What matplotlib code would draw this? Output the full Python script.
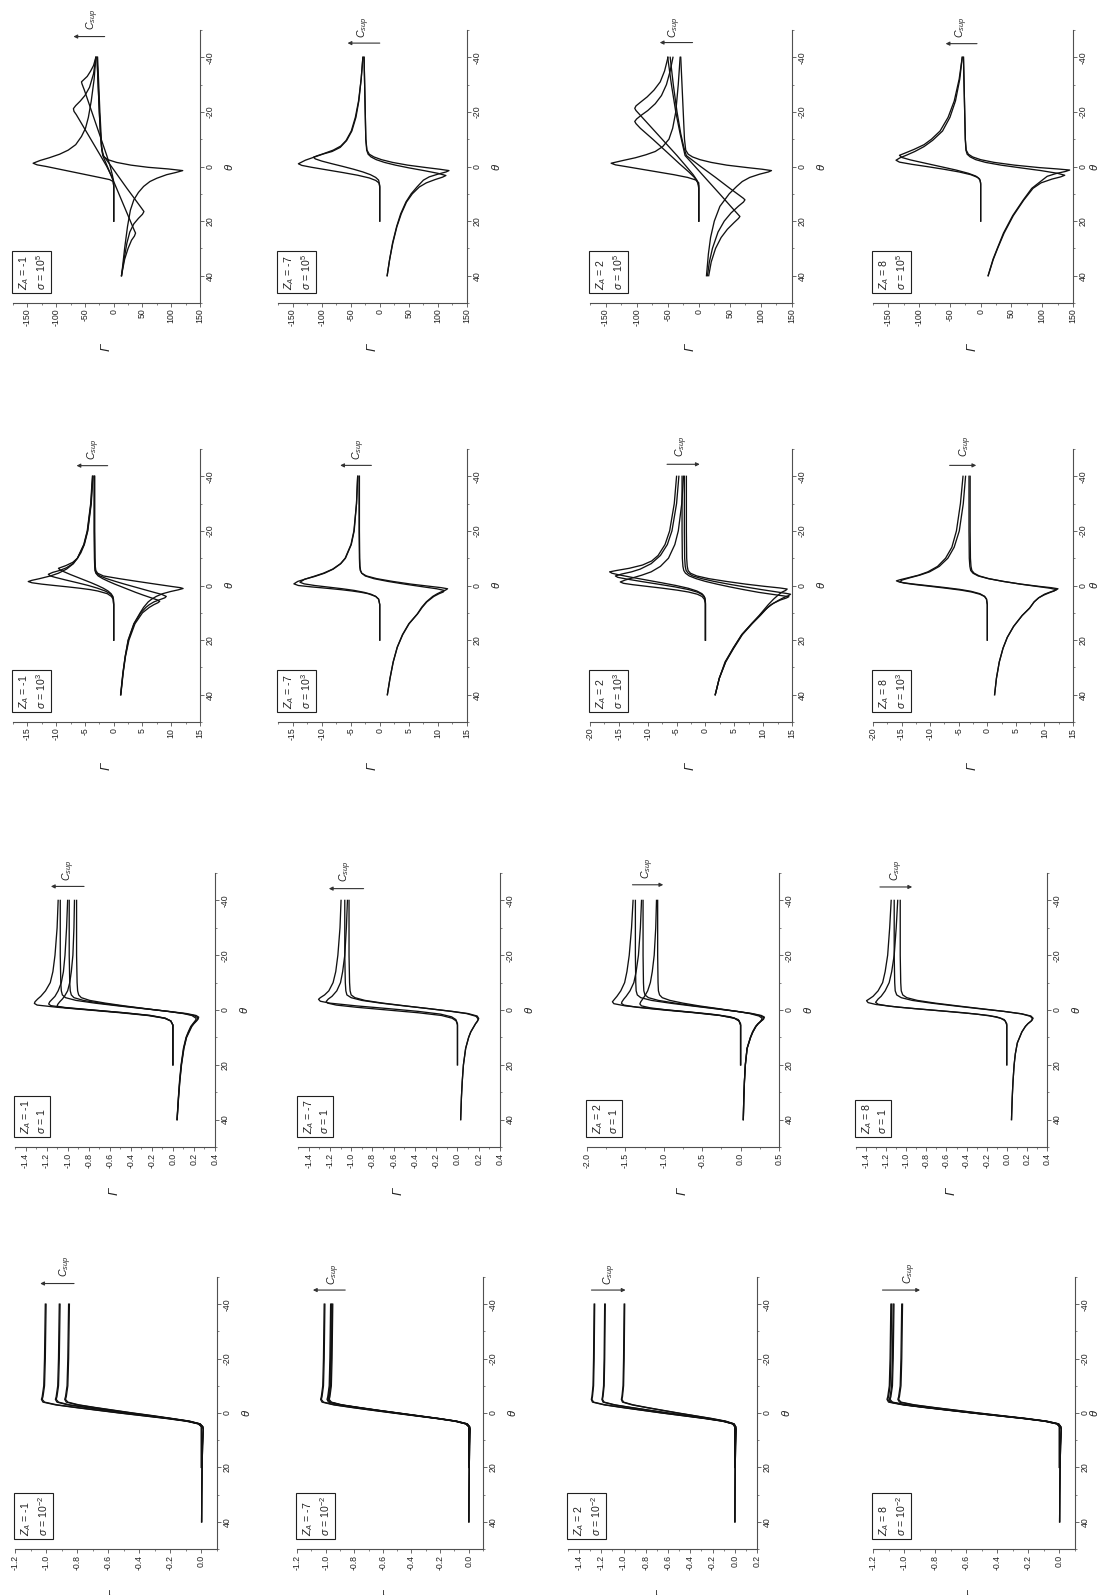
import matplotlib
matplotlib.use("Agg")
import matplotlib.pyplot as plt
from matplotlib.ticker import MultipleLocator, FuncFormatter
from matplotlib.transforms import offset_copy

plt.rcParams['font.family'] = ['Liberation Sans', 'DejaVu Sans']
plt.rcParams['mathtext.fontset'] = 'custom'
plt.rcParams['mathtext.rm'] = 'Liberation Sans'
plt.rcParams['mathtext.it'] = 'Liberation Sans:italic'
plt.rcParams['mathtext.bf'] = 'Liberation Sans:bold'
plt.rcParams['axes.unicode_minus'] = False

# ------------------------------------------------------------------ data
Z_A_VALUES = [-1, -7, 2, 8]                       # columns
SIGMA_TEXT = ['10$^{5}$', '10$^{3}$', '1', '10$^{-2}$']   # rows, top to bottom

# sigma = 1e-2 : shared theta grids
TH_EM2_L = [-40, -20, -10, -6, -5, -4, -3, -2, -1, 0, 1, 2, 3, 4, 5, 8, 20]
TH_EM2_R = [-40, -20, -10, -6, -5, -4, -3, -2, -1, 0, 1, 2, 3, 4, 5, 6, 8, 12, 20, 30, 40]

EM2_M1_L1 = [-1.005, -1.01, -1.015, -1.025, -1.03, -1.02, -0.94, -0.81, -0.67, -0.53, -0.38, -0.23, -0.10, -0.02, 0.0, 0.0, 0.0]
EM2_M1_L2 = [-0.915, -0.92, -0.925, -0.935, -0.94, -0.93, -0.86, -0.74, -0.61, -0.48, -0.35, -0.21, -0.09, -0.02, 0.0, 0.0, 0.0]
EM2_M1_L3 = [-0.855, -0.86, -0.865, -0.875, -0.88, -0.87, -0.80, -0.69, -0.57, -0.45, -0.32, -0.20, -0.085, -0.015, 0.0, 0.0, 0.0]
EM2_M1_R1 = [-1.0, -1.005, -1.01, -1.02, -1.025, -1.01, -0.93, -0.80, -0.66, -0.52, -0.37, -0.22, -0.09, -0.01, 0.008, 0.012, 0.01, 0.007, 0.004, 0.002, 0.001]
EM2_M1_R2 = [-0.91, -0.915, -0.92, -0.93, -0.935, -0.92, -0.85, -0.73, -0.60, -0.47, -0.34, -0.20, -0.08, -0.01, 0.008, 0.012, 0.01, 0.007, 0.004, 0.002, 0.001]
EM2_M1_R3 = [-0.85, -0.855, -0.86, -0.87, -0.875, -0.86, -0.79, -0.68, -0.56, -0.44, -0.31, -0.19, -0.075, -0.008, 0.008, 0.012, 0.01, 0.007, 0.004, 0.002, 0.001]

EM2_M7_L1 = [-1.01, -1.015, -1.02, -1.03, -1.035, -1.025, -0.945, -0.815, -0.675, -0.53, -0.38, -0.23, -0.10, -0.02, 0.0, 0.0, 0.0]
EM2_M7_L2 = [-0.965, -0.97, -0.975, -0.985, -0.99, -0.98, -0.905, -0.78, -0.645, -0.505, -0.365, -0.22, -0.095, -0.02, 0.0, 0.0, 0.0]
EM2_M7_L3 = [-0.955, -0.96, -0.965, -0.975, -0.98, -0.97, -0.895, -0.77, -0.64, -0.50, -0.36, -0.22, -0.09, -0.02, 0.0, 0.0, 0.0]
EM2_M7_R1 = [-1.005, -1.01, -1.015, -1.025, -1.03, -1.015, -0.935, -0.805, -0.665, -0.52, -0.37, -0.22, -0.09, -0.01, 0.006, 0.01, 0.008, 0.006, 0.004, 0.002, 0.001]
EM2_M7_R2 = [-0.96, -0.965, -0.97, -0.98, -0.985, -0.97, -0.895, -0.77, -0.635, -0.495, -0.355, -0.21, -0.085, -0.01, 0.006, 0.01, 0.008, 0.006, 0.004, 0.002, 0.001]
EM2_M7_R3 = [-0.95, -0.955, -0.96, -0.97, -0.975, -0.96, -0.885, -0.76, -0.63, -0.49, -0.35, -0.21, -0.085, -0.01, 0.006, 0.01, 0.008, 0.006, 0.004, 0.002, 0.001]

EM2_P2_L1 = [-1.265, -1.27, -1.275, -1.285, -1.29, -1.28, -1.176, -1.012, -0.835, -0.658, -0.468, -0.278, -0.114, -0.019, 0.0, 0.0, 0.0]
EM2_P2_L2 = [-1.17, -1.175, -1.18, -1.19, -1.195, -1.185, -1.088, -0.936, -0.772, -0.608, -0.433, -0.257, -0.105, -0.018, 0.0, 0.0, 0.0]
EM2_P2_L3 = [-0.995, -1.0, -1.005, -1.015, -1.02, -1.01, -0.925, -0.796, -0.657, -0.517, -0.368, -0.219, -0.09, -0.015, 0.0, 0.0, 0.0]
EM2_P2_R1 = [-1.26, -1.265, -1.27, -1.28, -1.285, -1.27, -1.166, -1.0, -0.825, -0.648, -0.458, -0.268, -0.104, -0.009, 0.008, 0.012, 0.01, 0.007, 0.004, 0.002, 0.001]
EM2_P2_R2 = [-1.165, -1.17, -1.175, -1.185, -1.19, -1.175, -1.078, -0.926, -0.762, -0.598, -0.423, -0.247, -0.095, -0.008, 0.008, 0.012, 0.01, 0.007, 0.004, 0.002, 0.001]
EM2_P2_R3 = [-0.99, -0.995, -1.0, -1.01, -1.015, -1.0, -0.915, -0.786, -0.647, -0.507, -0.358, -0.209, -0.08, -0.005, 0.008, 0.012, 0.01, 0.007, 0.004, 0.002, 0.001]

EM2_P8_L1 = [-1.085, -1.09, -1.095, -1.105, -1.11, -1.10, -1.009, -0.868, -0.716, -0.564, -0.401, -0.239, -0.098, -0.016, 0.0, 0.0, 0.0]
EM2_P8_L2 = [-1.07, -1.075, -1.08, -1.09, -1.095, -1.085, -0.995, -0.856, -0.706, -0.556, -0.396, -0.235, -0.096, -0.016, 0.0, 0.0, 0.0]
EM2_P8_L3 = [-1.015, -1.02, -1.025, -1.035, -1.04, -1.03, -0.944, -0.812, -0.67, -0.528, -0.376, -0.223, -0.091, -0.015, 0.0, 0.0, 0.0]
EM2_P8_R1 = [-1.08, -1.085, -1.09, -1.10, -1.105, -1.09, -0.999, -0.858, -0.706, -0.554, -0.391, -0.229, -0.088, -0.006, 0.008, 0.012, 0.01, 0.007, 0.004, 0.002, 0.001]
EM2_P8_R2 = [-1.065, -1.07, -1.075, -1.085, -1.09, -1.075, -0.985, -0.846, -0.696, -0.546, -0.386, -0.225, -0.086, -0.006, 0.008, 0.012, 0.01, 0.007, 0.004, 0.002, 0.001]
EM2_P8_R3 = [-1.01, -1.015, -1.02, -1.03, -1.035, -1.02, -0.934, -0.802, -0.66, -0.518, -0.366, -0.213, -0.081, -0.005, 0.008, 0.012, 0.01, 0.007, 0.004, 0.002, 0.001]

# sigma = 1 : (theta, Gamma) pairs
E0_M1_L1 = [(-40, -1.09), (-30, -1.10), (-20, -1.12), (-14, -1.14), (-10, -1.165), (-7, -1.21), (-5, -1.255), (-4, -1.285), (-3, -1.31), (-2.4, -1.316), (-1.8, -1.29), (-1, -1.1), (0, -0.8), (1, -0.5), (2, -0.24), (3, -0.08), (4, -0.02), (5.5, 0), (20, 0)]
E0_M1_L2 = [(-40, -1.0), (-30, -1.01), (-20, -1.025), (-14, -1.04), (-10, -1.06), (-7, -1.09), (-5, -1.12), (-4, -1.145), (-3, -1.17), (-2.2, -1.18), (-1.6, -1.16), (-1, -1.05), (0, -0.76), (1, -0.47), (2, -0.22), (3, -0.075), (4, -0.02), (5.5, 0), (20, 0)]
E0_M1_L3 = [(-40, -0.935), (-30, -0.94), (-20, -0.95), (-14, -0.965), (-10, -0.98), (-7, -1.0), (-5, -1.03), (-4, -1.05), (-3, -1.075), (-2, -1.095), (-1.4, -1.10), (-0.8, -1.02), (0, -0.77), (1, -0.46), (2, -0.21), (3, -0.07), (4, -0.02), (5.5, 0), (20, 0)]
E0_M1_R1 = [(-40, -1.07), (-20, -1.07), (-10, -1.065), (-7, -1.06), (-5.5, -1.05), (-4.5, -1.02), (-3.5, -0.92), (-2.5, -0.74), (-1.5, -0.52), (-0.5, -0.28), (0.5, -0.04), (1.3, 0.13), (2, 0.22), (2.6, 0.245), (3.3, 0.24), (4, 0.225), (5, 0.2), (6, 0.18), (8, 0.155), (10, 0.13), (14, 0.105), (20, 0.082), (26, 0.066), (32, 0.054), (40, 0.04)]
E0_M1_R2 = [(-40, -0.985), (-20, -0.985), (-10, -0.98), (-7, -0.975), (-5.5, -0.965), (-4.5, -0.94), (-3.5, -0.85), (-2.5, -0.69), (-1.5, -0.49), (-0.5, -0.27), (0.5, -0.05), (1.3, 0.11), (2, 0.2), (2.8, 0.235), (3.5, 0.23), (4, 0.22), (5, 0.195), (6, 0.175), (8, 0.15), (10, 0.128), (14, 0.103), (20, 0.08), (26, 0.065), (32, 0.053), (40, 0.04)]
E0_M1_R3 = [(-40, -0.915), (-20, -0.915), (-10, -0.91), (-7, -0.905), (-5.5, -0.895), (-4.5, -0.87), (-3.5, -0.79), (-2.5, -0.64), (-1.5, -0.46), (-0.5, -0.26), (0.5, -0.05), (1.3, 0.1), (2, 0.18), (3, 0.22), (3.6, 0.218), (4, 0.21), (5, 0.19), (6, 0.17), (8, 0.146), (10, 0.125), (14, 0.1), (20, 0.078), (26, 0.063), (32, 0.052), (40, 0.039)]

E0_M7_L1 = [(-40, -1.095), (-30, -1.105), (-20, -1.125), (-14, -1.145), (-10, -1.17), (-7, -1.21), (-5.5, -1.25), (-4.5, -1.29), (-3.9, -1.307), (-3.2, -1.29), (-2.5, -1.2), (-1.5, -0.95), (-0.5, -0.65), (0.5, -0.37), (1.5, -0.16), (2.5, -0.055), (3.5, -0.015), (5, 0), (20, 0)]
E0_M7_L2 = [(-40, -1.035), (-30, -1.045), (-20, -1.06), (-14, -1.08), (-10, -1.10), (-7, -1.135), (-5, -1.18), (-4, -1.215), (-3.1, -1.235), (-2.5, -1.22), (-1.8, -1.14), (-1, -0.95), (0, -0.66), (1, -0.37), (2, -0.15), (3, -0.05), (4, -0.012), (5.5, 0), (20, 0)]
E0_M7_R1 = [(-40, -1.06), (-20, -1.06), (-10, -1.055), (-7, -1.05), (-5.5, -1.04), (-4.5, -1.0), (-3.5, -0.9), (-2.5, -0.72), (-1.5, -0.5), (-0.5, -0.27), (0.5, -0.05), (1.3, 0.1), (2.2, 0.185), (3.1, 0.2), (4, 0.19), (5, 0.17), (6, 0.155), (8, 0.125), (10, 0.105), (14, 0.077), (20, 0.056), (26, 0.045), (32, 0.037), (40, 0.03)]
E0_M7_R2 = [(-40, -1.02), (-20, -1.02), (-10, -1.015), (-7, -1.01), (-5.5, -1.0), (-4.5, -0.965), (-3.5, -0.87), (-2.5, -0.7), (-1.5, -0.49), (-0.5, -0.27), (0.5, -0.06), (1.3, 0.085), (2.3, 0.175), (3.3, 0.195), (4.2, 0.185), (5, 0.17), (6, 0.155), (8, 0.125), (10, 0.105), (14, 0.077), (20, 0.056), (26, 0.045), (32, 0.037), (40, 0.03)]

E0_P2_L1 = [(-40, -1.40), (-30, -1.42), (-20, -1.45), (-14, -1.48), (-10, -1.51), (-7, -1.56), (-5, -1.61), (-4, -1.64), (-3, -1.669), (-2.3, -1.65), (-1.5, -1.5), (-0.5, -1.15), (0.5, -0.75), (1.5, -0.38), (2.5, -0.13), (3.5, -0.03), (5, 0), (20, 0)]
E0_P2_L2 = [(-40, -1.29), (-30, -1.305), (-20, -1.33), (-14, -1.36), (-10, -1.39), (-7, -1.44), (-5, -1.49), (-4, -1.52), (-3, -1.545), (-2.4, -1.551), (-1.8, -1.52), (-1, -1.35), (0, -1.0), (1, -0.6), (2, -0.27), (3, -0.08), (4, -0.02), (5.5, 0), (20, 0)]
E0_P2_L3 = [(-40, -1.095), (-30, -1.105), (-20, -1.125), (-14, -1.15), (-10, -1.175), (-7, -1.21), (-5, -1.25), (-4, -1.275), (-3, -1.3), (-2.2, -1.312), (-1.5, -1.29), (-0.8, -1.18), (0, -0.95), (1, -0.58), (2, -0.26), (3, -0.08), (4, -0.02), (5.5, 0), (20, 0)]
E0_P2_R1 = [(-40, -1.37), (-20, -1.37), (-10, -1.365), (-7, -1.36), (-5.5, -1.345), (-4.5, -1.3), (-3.5, -1.16), (-2.5, -0.92), (-1.5, -0.64), (-0.5, -0.34), (0.5, -0.05), (1.3, 0.15), (2, 0.27), (2.6, 0.31), (3.3, 0.3), (4, 0.27), (5, 0.23), (6, 0.2), (8, 0.16), (10, 0.13), (14, 0.085), (20, 0.062), (26, 0.05), (32, 0.042), (40, 0.035)]
E0_P2_R2 = [(-40, -1.27), (-20, -1.27), (-10, -1.265), (-7, -1.26), (-5.5, -1.245), (-4.5, -1.2), (-3.5, -1.07), (-2.5, -0.85), (-1.5, -0.6), (-0.5, -0.32), (0.5, -0.05), (1.3, 0.14), (2.1, 0.26), (2.8, 0.3), (3.5, 0.29), (4.2, 0.26), (5, 0.23), (6, 0.2), (8, 0.16), (10, 0.13), (14, 0.085), (20, 0.062), (26, 0.05), (32, 0.042), (40, 0.035)]
E0_P2_R3 = [(-40, -1.08), (-20, -1.08), (-10, -1.075), (-7, -1.07), (-5.5, -1.055), (-4.5, -1.02), (-3.5, -0.92), (-2.5, -0.75), (-1.5, -0.54), (-0.5, -0.29), (0.5, -0.05), (1.3, 0.12), (2.2, 0.24), (3, 0.28), (3.7, 0.27), (4.4, 0.25), (5, 0.225), (6, 0.195), (8, 0.155), (10, 0.127), (14, 0.084), (20, 0.061), (26, 0.05), (32, 0.042), (40, 0.035)]

E0_P8_L1 = [(-40, -1.15), (-30, -1.165), (-20, -1.185), (-14, -1.21), (-10, -1.235), (-7, -1.28), (-5, -1.33), (-4, -1.37), (-3.4, -1.395), (-2.7, -1.38), (-2, -1.3), (-1, -1.07), (0, -0.75), (1, -0.43), (2, -0.18), (3, -0.06), (4, -0.015), (5.5, 0), (20, 0)]
E0_P8_L2 = [(-40, -1.085), (-30, -1.1), (-20, -1.12), (-14, -1.145), (-10, -1.17), (-7, -1.21), (-5, -1.25), (-4, -1.28), (-2.8, -1.305), (-2.1, -1.28), (-1.4, -1.17), (-0.5, -0.92), (0.5, -0.6), (1.5, -0.3), (2.5, -0.1), (3.5, -0.025), (5, 0), (20, 0)]
E0_P8_R1 = [(-40, -1.12), (-20, -1.12), (-10, -1.115), (-7, -1.11), (-5.5, -1.095), (-4.5, -1.05), (-3.5, -0.94), (-2.5, -0.75), (-1.5, -0.52), (-0.5, -0.28), (0.5, -0.03), (1.4, 0.15), (2.2, 0.24), (3, 0.262), (3.8, 0.25), (5, 0.21), (6, 0.185), (8, 0.15), (12, 0.105), (16, 0.085), (20, 0.073), (26, 0.062), (32, 0.054), (40, 0.047)]
E0_P8_R2 = [(-40, -1.06), (-20, -1.06), (-10, -1.055), (-7, -1.05), (-5.5, -1.035), (-4.5, -0.995), (-3.5, -0.89), (-2.5, -0.71), (-1.5, -0.49), (-0.5, -0.26), (0.5, -0.03), (1.4, 0.145), (2.3, 0.235), (3.2, 0.255), (4, 0.243), (5, 0.21), (6, 0.185), (8, 0.15), (12, 0.105), (16, 0.085), (20, 0.073), (26, 0.062), (32, 0.054), (40, 0.047)]

# sigma = 1e3
E3_M1_L1 = [(-40, -3.7), (-30, -4.0), (-20, -4.6), (-15, -5.2), (-10, -6.3), (-8, -7.0), (-6, -8.2), (-4.5, -9.6), (-3.5, -11.0), (-2.5, -12.9), (-1.9, -14.2), (-1.45, -14.85), (-1, -14.2), (-0.5, -12.5), (0, -10.3), (0.5, -8.0), (1, -5.9), (1.5, -4.1), (2, -2.8), (3, -1.1), (4, -0.4), (5, -0.1), (7, 0), (20, 0)]
E3_M1_L2 = [(-40, -3.65), (-30, -3.95), (-20, -4.55), (-15, -5.15), (-10, -6.3), (-8, -7.1), (-6.5, -8.2), (-5.5, -9.4), (-4.8, -10.6), (-4.1, -11.36), (-3.5, -11.0), (-3, -10.2), (-2, -8.3), (-1, -6.3), (0, -4.4), (1, -2.8), (2, -1.5), (3, -0.6), (4, -0.2), (5, -0.05), (7, 0), (20, 0)]
E3_M1_L3 = [(-40, -3.6), (-30, -3.9), (-20, -4.5), (-15, -5.1), (-12, -5.7), (-10, -6.3), (-8.5, -7.1), (-7.3, -8.3), (-6.3, -9.6), (-5.7, -9.3), (-5, -8.6), (-4, -7.5), (-3, -6.3), (-2, -5.1), (-1, -3.9), (0, -2.8), (1, -1.8), (2, -1.0), (3, -0.45), (4, -0.15), (5, -0.05), (7, 0), (20, 0)]
E3_M1_R1 = [(-40, -3.3), (-20, -3.3), (-10, -3.25), (-7, -3.2), (-5.5, -3.1), (-4.5, -2.8), (-3.5, -1.8), (-2.5, 1.0), (-1.5, 4.1), (-0.5, 7.3), (0.3, 9.9), (0.8, 11.6), (1.1, 12.06), (1.6, 11.2), (2.2, 9.9), (3, 8.5), (4, 7.4), (5, 6.6), (6, 6.0), (8, 5.2), (10, 4.6), (14, 3.5), (20, 2.5), (26, 2.0), (32, 1.6), (40, 1.2)]
E3_M1_R2 = [(-40, -3.35), (-20, -3.35), (-10, -3.3), (-7, -3.25), (-5.5, -3.2), (-4.5, -3.0), (-3.5, -2.4), (-2.5, -1.2), (-1.5, 0.3), (-0.5, 1.9), (0.5, 3.6), (1.5, 5.3), (2.5, 7.0), (3.3, 8.4), (4, 9.14), (4.5, 8.9), (5.2, 8.0), (6, 7.0), (7, 6.2), (8, 5.6), (10, 4.7), (14, 3.55), (20, 2.55), (26, 2.0), (32, 1.62), (40, 1.22)]
E3_M1_R3 = [(-40, -3.4), (-20, -3.4), (-10, -3.35), (-7, -3.3), (-5.5, -3.25), (-4.5, -3.1), (-3.5, -2.7), (-2.5, -1.9), (-1.5, -0.9), (-0.5, 0.2), (0.5, 1.4), (1.5, 2.6), (2.5, 3.8), (3.5, 5.1), (4.5, 6.5), (5.3, 7.6), (5.8, 8.0), (6.3, 7.7), (7, 7.0), (8, 6.2), (10, 5.0), (14, 3.7), (20, 2.65), (26, 2.05), (32, 1.65), (40, 1.24)]

E3_M7_L1 = [(-40, -3.8), (-30, -4.0), (-20, -4.4), (-15, -4.9), (-10, -5.9), (-8, -6.7), (-6, -8.0), (-4.5, -9.5), (-3.3, -11.2), (-2.3, -12.9), (-1.5, -14.1), (-0.6, -14.77), (0, -14.0), (0.5, -11.8), (1, -9.2), (1.5, -6.8), (2, -4.8), (2.5, -3.2), (3, -2.0), (4, -0.7), (5, -0.2), (7, 0), (20, 0)]
E3_M7_L2 = [(-40, -3.8), (-30, -4.0), (-20, -4.45), (-15, -4.95), (-10, -5.95), (-8, -6.75), (-6, -8.1), (-4.5, -9.7), (-3.3, -11.4), (-2.3, -12.9), (-1.2, -13.73), (-0.6, -13.0), (0, -11.2), (0.6, -8.8), (1.2, -6.4), (1.8, -4.4), (2.5, -2.7), (3.2, -1.5), (4, -0.7), (5, -0.2), (7, 0), (20, 0)]
E3_M7_R1 = [(-40, -3.55), (-20, -3.55), (-10, -3.5), (-7, -3.45), (-5.5, -3.35), (-4.5, -3.1), (-3.5, -2.3), (-2.5, -0.5), (-1.5, 2.2), (-0.5, 5.4), (0.3, 8.6), (0.8, 10.6), (1.2, 11.66), (1.7, 11.3), (2.3, 10.6), (3, 9.9), (4, 9.1), (6, 8.0), (8, 7.2), (10.4, 6.46), (14, 5.0), (18, 3.9), (22.6, 3.0), (28, 2.3), (34, 1.75), (40, 1.3)]
E3_M7_R2 = [(-40, -3.5), (-20, -3.5), (-10, -3.45), (-7, -3.4), (-5.5, -3.3), (-4.5, -3.1), (-3.5, -2.5), (-2.5, -1.0), (-1.5, 1.4), (-0.5, 4.3), (0.5, 7.5), (1.2, 9.8), (1.8, 11.1), (2.4, 10.9), (3, 10.2), (4, 9.3), (6, 8.1), (8, 7.3), (10.4, 6.5), (14, 5.05), (18, 3.95), (22.6, 3.02), (28, 2.32), (34, 1.77), (40, 1.31)]

E3_P2_L1 = [(-40, -5.0), (-30, -5.4), (-20, -6.2), (-15, -7.0), (-11, -8.2), (-9, -9.3), (-7.5, -10.9), (-6.3, -13.2), (-5.5, -15.4), (-5.0, -16.6), (-4.5, -16.2), (-4, -15.2), (-3, -12.8), (-2, -10.2), (-1, -7.6), (0, -5.1), (1, -3.0), (2, -1.5), (3, -0.6), (4, -0.2), (5, -0.05), (7, 0), (20, 0)]
E3_P2_L2 = [(-40, -4.6), (-30, -5.0), (-20, -5.8), (-15, -6.6), (-11, -7.8), (-8, -9.4), (-6, -11.3), (-5, -12.8), (-4.2, -14.5), (-3.5, -15.6), (-3, -15.2), (-2.5, -14.0), (-1.5, -11.2), (-0.5, -8.2), (0.5, -5.3), (1.5, -2.9), (2.5, -1.3), (3.5, -0.45), (4.5, -0.12), (6, 0), (20, 0)]
E3_P2_L3 = [(-40, -3.8), (-30, -4.1), (-20, -4.7), (-15, -5.3), (-10, -6.4), (-7, -7.8), (-5, -9.4), (-3.8, -11.0), (-2.8, -12.6), (-2, -13.9), (-1.3, -14.75), (-0.8, -14.2), (-0.3, -12.6), (0.3, -10.2), (1, -7.4), (1.7, -4.9), (2.4, -2.9), (3.2, -1.4), (4, -0.6), (5, -0.2), (6.5, 0), (20, 0)]
E3_P2_R1 = [(-40, -3.3), (-20, -3.3), (-10, -3.25), (-7, -3.15), (-5.5, -3.0), (-4.5, -2.6), (-3.5, -1.5), (-2.5, 0.6), (-1.5, 3.6), (-0.5, 7.0), (0.3, 10.2), (0.9, 12.9), (1.3, 14.17), (1.8, 13.9), (2.5, 13.2), (3.5, 12.6), (5, 11.8), (7, 10.9), (9, 10.1), (11, 9.3), (14, 8.0), (18, 6.3), (23, 4.8), (28, 3.4), (34, 2.4), (40, 1.7)]
E3_P2_R2 = [(-40, -3.65), (-20, -3.65), (-10, -3.6), (-7, -3.5), (-5.5, -3.35), (-4.5, -3.0), (-3.5, -2.2), (-2.5, -0.6), (-1.5, 1.5), (-0.5, 4.0), (0.5, 6.8), (1.5, 9.7), (2.3, 12.2), (2.9, 14.0), (3.2, 14.75), (3.7, 14.4), (4.5, 13.5), (5.5, 12.6), (7, 11.4), (9, 10.3), (11, 9.4), (14, 8.0), (18, 6.3), (23, 4.8), (28, 3.5), (34, 2.4), (40, 1.7)]
E3_P2_R3 = [(-40, -4.05), (-20, -4.05), (-10, -4.0), (-7, -3.9), (-5.5, -3.75), (-4.5, -3.45), (-3.5, -2.8), (-2.5, -1.6), (-1.5, 0.0), (-0.5, 2.0), (0.5, 4.2), (1.5, 6.6), (2.5, 9.2), (3.3, 11.8), (3.8, 13.5), (4.1, 14.46), (4.6, 14.0), (5.3, 13.0), (6.5, 11.8), (8, 10.8), (11, 9.5), (14, 8.1), (18, 6.4), (23, 4.9), (28, 3.5), (34, 2.4), (40, 1.7)]

E3_P8_L1 = [(-40, -4.25), (-30, -4.7), (-20, -5.4), (-14, -6.2), (-10, -7.3), (-7, -8.7), (-5, -10.4), (-3.8, -12.0), (-2.8, -13.9), (-2.1, -15.3), (-1.7, -15.9), (-1.2, -15.3), (-0.6, -13.2), (0, -10.6), (0.7, -7.6), (1.4, -4.9), (2.1, -2.9), (3, -1.3), (4, -0.45), (5, -0.12), (7, 0), (20, 0)]
E3_P8_L2 = [(-40, -3.8), (-30, -4.2), (-20, -4.9), (-14, -5.8), (-10, -6.9), (-7, -8.4), (-5, -10.1), (-3.8, -11.8), (-2.8, -13.6), (-2, -14.9), (-1.4, -15.3), (-0.9, -14.6), (-0.3, -12.5), (0.3, -10.0), (1, -7.2), (1.7, -4.6), (2.4, -2.7), (3.2, -1.3), (4, -0.5), (5, -0.15), (7, 0), (20, 0)]
E3_P8_R1 = [(-40, -3.2), (-20, -3.2), (-10, -3.15), (-7, -3.05), (-5.5, -2.9), (-4.5, -2.5), (-3.5, -1.6), (-2.5, 0.2), (-1.5, 2.8), (-0.5, 5.9), (0.3, 9.0), (0.8, 11.2), (1.2, 12.37), (1.7, 12.0), (2.4, 11.0), (3.2, 10.0), (4.5, 9.0), (6, 8.2), (8.3, 7.4), (11, 6.1), (15, 4.6), (19, 3.5), (23, 2.75), (28, 2.1), (34, 1.6), (40, 1.28)]
E3_P8_R2 = [(-40, -3.0), (-20, -3.0), (-10, -2.95), (-7, -2.85), (-5.5, -2.7), (-4.5, -2.3), (-3.5, -1.4), (-2.5, 0.3), (-1.5, 2.8), (-0.5, 5.8), (0.4, 8.9), (1, 11.0), (1.5, 12.05), (2, 11.7), (2.7, 10.8), (3.5, 9.9), (4.5, 9.0), (6, 8.2), (8.3, 7.4), (11, 6.1), (15, 4.6), (19, 3.5), (23, 2.75), (28, 2.1), (34, 1.6), (40, 1.28)]

# sigma = 1e5
E5_M1_L1 = [(-40, -31), (-32, -34), (-24, -39), (-18, -44), (-14, -49), (-11, -56), (-8, -66), (-6, -79), (-4.5, -94), (-3.2, -112), (-2.2, -128), (-1.2, -140), (-0.6, -133), (0, -117), (1, -94), (2, -71), (3, -48), (4, -25), (4.8, -7), (5.5, -1), (7, 0), (20, 0)]
E5_M1_L2 = [(-40, -31), (-34, -35), (-29, -42), (-26, -50), (-24, -58), (-22.3, -66), (-21.2, -70), (-20.2, -69), (-19, -65), (-14, -51), (-9, -37), (-4, -23), (0, -12), (3, -5), (5, -1), (7, 0), (20, 0)]
E5_M1_L3 = [(-40, -31), (-37, -35), (-35, -40), (-33, -46), (-31.8, -52), (-31, -56), (-30.2, -55), (-28, -51), (-20, -38), (-12, -25), (-4, -12), (0, -6), (3, -2.5), (5, -0.5), (7, 0), (20, 0)]
E5_M1_R1 = [(-40, -28), (-30, -26), (-20, -24), (-12, -22), (-7, -21), (-5, -19.5), (-3.5, -17), (-2.5, -10), (-1.5, 5), (-0.5, 30), (0.3, 60), (0.9, 95), (1.5, 120), (2.2, 108), (3, 92), (4.3, 75), (5.5, 63), (7.3, 52), (9.5, 43), (12.2, 35), (16, 29), (22, 24), (30, 19), (40, 13.7)]
E5_M1_R2 = [(-40, -29), (-30, -27), (-20, -25), (-12, -23), (-7, -21), (-4, -18), (0, -4), (4, 9.5), (8, 23), (12, 37), (15, 47.5), (16.5, 52.6), (17.5, 50), (19, 43), (21, 35), (24, 28), (28, 23), (34, 18), (40, 13.5)]
E5_M1_R3 = [(-40, -29), (-30, -27), (-20, -25), (-12, -23), (-7, -21), (-4, -19), (0, -11), (5, -1), (10, 9), (15, 19), (20, 29), (23, 35), (24.4, 38), (25.5, 36), (27, 31), (30, 25), (34, 19), (40, 13.5)]

E5_M7_L1 = [(-40, -29), (-32, -32), (-24, -36), (-18, -41), (-13, -48), (-9.5, -57), (-7, -68), (-5.5, -82), (-4.6, -97), (-3.5, -112), (-2.3, -128), (-1, -140), (-0.4, -134), (0.3, -117), (1.2, -92), (2.2, -64), (3.2, -38), (4.2, -18), (5.1, -7), (6, -1.5), (7.5, 0), (20, 0)]
E5_M7_L2 = [(-40, -29), (-32, -32), (-24, -36.5), (-18, -42), (-13, -49), (-9.5, -58), (-7.5, -67), (-6, -80), (-4.6, -98), (-3.9, -108), (-3.4, -114), (-2.8, -111), (-2, -100), (-1, -82), (0, -63), (1, -45), (2, -29), (3, -16), (4, -7), (5, -2), (7, 0), (20, 0)]
E5_M7_R1 = [(-40, -27), (-30, -26), (-20, -25), (-10, -24), (-6, -22), (-4.5, -18), (-3.5, -10), (-2.5, 3), (-1.5, 22), (-0.5, 48), (0.4, 80), (1, 103), (1.5, 119), (2, 114), (2.8, 100), (3.8, 85), (5, 75), (7.5, 64), (10, 54), (13, 45), (17.3, 36), (22, 29), (28, 22), (34, 17), (40, 12.7)]
E5_M7_R2 = [(-40, -27), (-30, -26), (-20, -25), (-10, -24), (-6, -22.5), (-4.5, -20), (-3.5, -15), (-2.5, -6), (-1.5, 8), (-0.5, 27), (0.5, 50), (1.5, 76), (2.5, 100), (3.3, 113.7), (3.9, 108), (4.8, 95), (6, 80), (7.5, 68), (10, 56), (13, 46), (17.3, 37), (22, 29.5), (28, 22.5), (34, 17), (40, 12.7)]

E5_P2_L1 = [(-40, -30), (-30, -33), (-20, -37), (-14, -42), (-10, -48), (-7.3, -58), (-5.5, -70), (-4.3, -85), (-3.2, -102), (-2.2, -122), (-1.2, -141), (-0.6, -134), (0, -118), (1, -92), (2, -66), (3, -40), (4, -18), (5, -4), (6, 0), (20, 0)]
E5_P2_L2 = [(-40, -49.5), (-35, -55), (-31, -62), (-28, -72), (-25.5, -83), (-23.5, -94), (-22.2, -101), (-21.3, -103), (-20.5, -101), (-19, -95), (-14, -75), (-9, -55), (-4, -35), (0, -20), (3, -9), (5, -3), (7, 0), (20, 0)]
E5_P2_L3 = [(-40, -41.5), (-35, -46), (-30, -52), (-26, -60), (-23, -70), (-20.5, -82), (-18.7, -93), (-17.4, -100), (-16.5, -103), (-15.7, -101), (-14, -94), (-10, -74), (-5, -50), (-1, -31), (2, -16), (4, -7), (6, -1.5), (8, 0), (20, 0)]
E5_P2_R1 = [(-40, -29), (-30, -27), (-20, -25), (-10, -23), (-6, -21), (-4.5, -17), (-3.5, -10), (-2.5, 2), (-1.5, 20), (-0.5, 45), (0.4, 78), (1, 102), (1.5, 117), (2, 112), (2.8, 98), (4, 82), (5.5, 70), (7.3, 61), (10, 49), (14.6, 34), (20, 25), (26, 19), (32, 15.5), (40, 12.4)]
E5_P2_R2 = [(-40, -46), (-30, -41), (-20, -35), (-12, -29), (-7, -24), (-4, -20), (0, 3), (4, 27), (8, 50), (10.5, 65), (11.6, 71.5), (12.2, 74.3), (13, 72), (14.5, 64), (17, 52), (20, 41), (24, 31), (30, 22), (35, 17), (40, 14)]
E5_P2_R3 = [(-40, -50), (-30, -44), (-20, -37), (-12, -30), (-7, -25), (-4, -22), (0, -6), (5, 13.7), (10, 33.5), (15, 53), (17.5, 63), (18.3, 66.2), (19, 64), (20.5, 57), (23, 46), (26, 36), (30, 27), (35, 20), (40, 16)]

E5_P8_L1 = [(-40, -30), (-32, -34), (-24, -41), (-18, -50), (-13, -62), (-9.6, -78), (-7.3, -92), (-5.5, -107), (-4.2, -120), (-3.2, -131), (-2.3, -137.6), (-1.6, -132), (-0.8, -112), (0, -88), (1, -60), (2, -35), (3, -16), (4, -5), (5, -1), (6.5, 0), (20, 0)]
E5_P8_L2 = [(-40, -30), (-32, -35), (-24, -43), (-18, -53), (-13, -66), (-10, -80), (-8, -92), (-6.3, -108), (-5, -122), (-4.1, -132), (-3.3, -128), (-2.4, -114), (-1.3, -92), (0, -66), (1.3, -40), (2.5, -20), (3.5, -8), (4.5, -2), (6, 0), (20, 0)]
E5_P8_R1 = [(-40, -28), (-30, -27), (-20, -26), (-10, -25), (-6, -23.5), (-4.5, -20), (-3.5, -13), (-2.5, 0), (-1.5, 22), (-0.5, 55), (0.4, 95), (0.9, 125), (1.3, 144.6), (1.8, 138), (2.6, 122), (3.6, 108), (5, 100), (8, 83), (12.3, 69), (18, 52), (24.4, 37), (30, 27), (34, 20), (40, 12)]
E5_P8_R2 = [(-40, -28), (-30, -27), (-20, -26), (-10, -25), (-6, -24), (-4.5, -22), (-3.5, -17), (-2.5, -8), (-1.5, 8), (-0.5, 33), (0.5, 65), (1.5, 98), (2.5, 125), (3.2, 136.6), (3.8, 130), (4.6, 116), (6, 98), (8, 85), (12.3, 70), (18, 53), (24.4, 38), (30, 27.5), (34, 20.5), (40, 12.2)]

# axis ranges per panel (rows: sigma 1e5, 1e3, 1, 1e-2; cols: Z_A -1, -7, 2, 8)
GAMMA_LIM = [
    [(-175, 150), (-175, 150), (-175, 150), (-175, 150)],
    [(-17.5, 15), (-17.5, 15), (-20, 15), (-20, 15)],
    [(-1.5, 0.4), (-1.5, 0.4), (-2.0, 0.5), (-1.5, 0.4)],
    [(-1.2, 0.1), (-1.2, 0.1), (-1.5, 0.2), (-1.2, 0.1)],
]
GAMMA_STEP = [
    [(50, 25)] * 4,
    [(5, 2.5)] * 4,
    [(0.2, 0.1), (0.2, 0.1), (0.5, 0.25), (0.2, 0.1)],
    [(0.2, 0.1)] * 4,
]
GAMMA_DECIMALS = [0, 0, 1, 1]

# C_sup arrow per panel: (head Gamma, tail Gamma, theta, text Gamma, text theta)
CSUP_ARROW = [
    [(-70, -15.7, -47.6, -36, -54), (-55.4, 0, -45.2, -27.7, -51), (-62.8, -10, -45.4, -38.5, -51), (-57, -6, -45, -30, -51)],
    [(-6.46, -1.05, -43.9, -3.38, -50), (-6.81, -1.44, -44, -3.64, -50), (-0.98, -6.65, -44.4, -4.05, -51), (-1.93, -6.59, -44, -3.68, -51)],
    [(-1.159, -0.844, -45.1, -0.986, -51), (-1.21, -0.883, -44.3, -1.053, -50.6), (-1.007, -1.408, -45.7, -1.203, -51.6), (-0.941, -1.262, -44.9, -1.09, -51)],
    [(-1.038, -0.82, -47.6, -0.876, -54), (-1.089, -0.863, -45.2, -0.945, -51), (-0.982, -1.289, -45.2, -1.123, -51), (-0.897, -1.139, -45.2, -0.966, -51.3)],
]

# panel frames in pixels (x0, x1) per row/col and (y0, y1) per row
PANEL_X = [
    [(13, 200), (278, 467), (590, 792), (873, 1073)],
    [(13, 200), (278, 467), (590, 792), (873, 1073)],
    [(15, 215), (298, 500), (587, 779), (856, 1047)],
    [(15, 217), (297, 483), (568, 757), (873, 1075)],
]
PANEL_Y = [(30, 303), (449, 722), (873, 1147), (1277, 1549)]

CURVES = [
    [[E5_M1_L1, E5_M1_L2, E5_M1_L3, E5_M1_R1, E5_M1_R2, E5_M1_R3],
     [E5_M7_L1, E5_M7_L2, E5_M7_R1, E5_M7_R2],
     [E5_P2_L1, E5_P2_L2, E5_P2_L3, E5_P2_R1, E5_P2_R2, E5_P2_R3],
     [E5_P8_L1, E5_P8_L2, E5_P8_R1, E5_P8_R2]],
    [[E3_M1_L1, E3_M1_L2, E3_M1_L3, E3_M1_R1, E3_M1_R2, E3_M1_R3],
     [E3_M7_L1, E3_M7_L2, E3_M7_R1, E3_M7_R2],
     [E3_P2_L1, E3_P2_L2, E3_P2_L3, E3_P2_R1, E3_P2_R2, E3_P2_R3],
     [E3_P8_L1, E3_P8_L2, E3_P8_R1, E3_P8_R2]],
    [[E0_M1_L1, E0_M1_L2, E0_M1_L3, E0_M1_R1, E0_M1_R2, E0_M1_R3],
     [E0_M7_L1, E0_M7_L2, E0_M7_R1, E0_M7_R2],
     [E0_P2_L1, E0_P2_L2, E0_P2_L3, E0_P2_R1, E0_P2_R2, E0_P2_R3],
     [E0_P8_L1, E0_P8_L2, E0_P8_R1, E0_P8_R2]],
    [[(TH_EM2_L, EM2_M1_L1), (TH_EM2_L, EM2_M1_L2), (TH_EM2_L, EM2_M1_L3),
      (TH_EM2_R, EM2_M1_R1), (TH_EM2_R, EM2_M1_R2), (TH_EM2_R, EM2_M1_R3)],
     [(TH_EM2_L, EM2_M7_L1), (TH_EM2_L, EM2_M7_L2), (TH_EM2_L, EM2_M7_L3),
      (TH_EM2_R, EM2_M7_R1), (TH_EM2_R, EM2_M7_R2), (TH_EM2_R, EM2_M7_R3)],
     [(TH_EM2_L, EM2_P2_L1), (TH_EM2_L, EM2_P2_L2), (TH_EM2_L, EM2_P2_L3),
      (TH_EM2_R, EM2_P2_R1), (TH_EM2_R, EM2_P2_R2), (TH_EM2_R, EM2_P2_R3)],
     [(TH_EM2_L, EM2_P8_L1), (TH_EM2_L, EM2_P8_L2), (TH_EM2_L, EM2_P8_L3),
      (TH_EM2_R, EM2_P8_R1), (TH_EM2_R, EM2_P8_R2), (TH_EM2_R, EM2_P8_R3)]],
]

THETA_LIM = (50, -50)

# ------------------------------------------------------------------ drawing
W, H = 1101, 1595
DPI = 100
fig = plt.figure(figsize=(W / DPI, H / DPI), dpi=DPI)
fig.patch.set_facecolor('white')

LINE_C = '#111111'
AXIS_C = '#505050'
TEXT_C = '#222222'


def split_curve(curve):
    if isinstance(curve, tuple):
        return list(curve[0]), list(curve[1])
    th = [p[0] for p in curve]
    g = [p[1] for p in curve]
    return th, g


def number_formatter(dec):
    def f(v, pos):
        v = round(v, 6)
        if abs(v) < 1e-9:
            v = 0.0
        return f"{v:.{dec}f}"
    return FuncFormatter(f)


for r in range(4):
    y0, y1 = PANEL_Y[r]
    for c in range(4):
        x0, x1 = PANEL_X[r][c]
        ax = fig.add_axes([x0 / W, 1 - y1 / H, (x1 - x0) / W, (y1 - y0) / H])
        ax.patch.set_alpha(0)

        for curve in CURVES[r][c]:
            th, g = split_curve(curve)
            ax.plot(g, th, color=LINE_C, lw=0.95, solid_joinstyle='round')

        lo, hi = GAMMA_LIM[r][c]
        ax.set_xlim(lo, hi)
        ax.set_ylim(*THETA_LIM)

        major, minor = GAMMA_STEP[r][c]
        ax.xaxis.set_major_locator(MultipleLocator(major))
        ax.xaxis.set_minor_locator(MultipleLocator(minor))
        ax.xaxis.set_major_formatter(number_formatter(GAMMA_DECIMALS[r]))
        ax.yaxis.set_major_locator(MultipleLocator(20))
        ax.yaxis.set_minor_locator(MultipleLocator(10))
        ax.yaxis.set_major_formatter(number_formatter(0))

        for s in ('top', 'left'):
            ax.spines[s].set_visible(False)
        for s in ('bottom', 'right'):
            ax.spines[s].set_color(AXIS_C)
            ax.spines[s].set_linewidth(0.8)
        ax.xaxis.set_ticks_position('bottom')
        ax.yaxis.set_ticks_position('right')
        ax.tick_params(which='major', direction='out', length=2.6, width=0.6,
                       colors=AXIS_C, labelcolor=TEXT_C, labelsize=6.3, pad=1.5)
        ax.tick_params(which='minor', direction='out', length=1.6, width=0.5, colors=AXIS_C)
        ax.tick_params(axis='x', labelrotation=90)
        ax.tick_params(axis='y', labelrotation=90)
        for lab in ax.get_yticklabels():
            lab.set_va('center')

        # axis titles
        tr_g = offset_copy(ax.transAxes, fig=fig, x=0, y=-44, units='dots')
        ax.text(0.5, 0.0, 'Γ', transform=tr_g, rotation=90, ha='center', va='center',
                fontsize=9.5, fontstyle='italic', color=TEXT_C)
        th_off = min(29, 1094 - x1)
        tr_t = offset_copy(ax.transAxes, fig=fig, x=th_off, y=0, units='dots')
        ax.text(1.0, 0.5, 'θ', transform=tr_t, rotation=90, ha='center', va='center',
                fontsize=8, fontstyle='italic', color=TEXT_C)

        # parameter box
        tr_b = offset_copy(ax.transAxes, fig=fig, x=4, y=13, units='dots')
        ax.text(0.0, 0.0, f"$Z_A$ = {Z_A_VALUES[c]}\n$\\sigma$ = {SIGMA_TEXT[r]}",
                transform=tr_b, rotation=90, ha='left', va='bottom', multialignment='left',
                fontsize=7.6, color=TEXT_C, linespacing=1.25,
                bbox=dict(boxstyle='square,pad=0.28', fc='white', ec='#202020', lw=0.8))

        # C_sup arrow
        hg, tg, ath, txg, txth = CSUP_ARROW[r][c]
        ax.annotate('', xy=(hg, ath), xytext=(tg, ath),
                    arrowprops=dict(arrowstyle='-|>', color='#333333', lw=0.8,
                                    mutation_scale=5.5, shrinkA=0, shrinkB=0),
                    annotation_clip=False)
        ax.text(txg, txth, '$C_{sup}$', rotation=90, ha='center', va='center',
                fontsize=7.6, color=TEXT_C, clip_on=False)

fig.savefig('out.png', dpi=DPI, facecolor='white')
